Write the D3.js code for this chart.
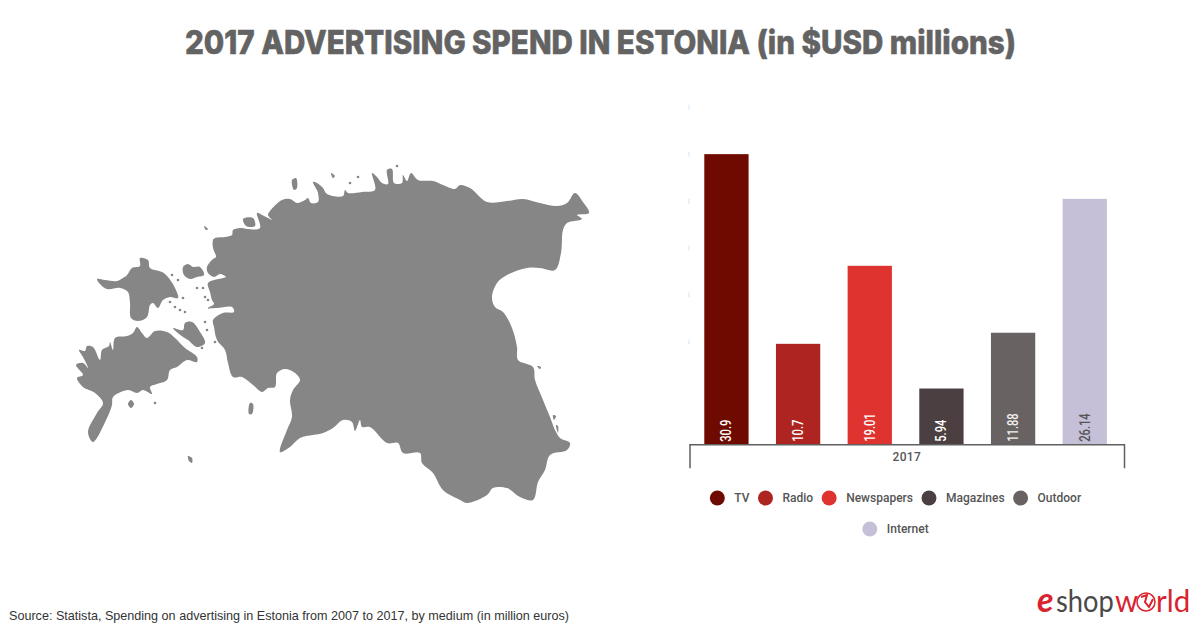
<!DOCTYPE html>
<html>
<head>
<meta charset="utf-8">
<script src="https://cdn.jsdelivr.net/npm/d3@7"></script>
<style>
  html, body { margin: 0; background: #fff; }
  svg { display: block; }
</style>
</head>
<body>
<div id="wrapper"></div>
<script>
// 1. Data
const categories = ["TV", "Radio", "Newspapers", "Magazines", "Outdoor", "Internet"]
const spend = [30.9, 10.7, 19.01, 5.94, 11.88, 26.14]
const years = ["2017"]
const barColors = ["#6f0a00", "#ae2420", "#df3330", "#4b3f41", "#686262", "#c5c0d8"]
const labelColors = ["#fff", "#fff", "#fff", "#fff", "#eee", "#555"]
// the faint stubs left of the plot, what remains of clipped y axis labels
const yStubs = [10.9, 15.9, 20.9, 25.9, 30.9, 35.9]

// map outlines
const mainland = [[213,240],[215,238],[225,237],[232,235],[233,230],[242,228],[247,229],[260,228],[257,213],[262,215],[268,218],[272,220],[268,215],[270,211],[282,200],[290,199],[297,203],[305,200],[308,198],[311,203],[318,202],[318,193],[313,182],[317,183],[323,188],[327,194],[343,196],[345,190],[348,193],[362,192],[375,190],[372,173],[377,177],[382,183],[388,184],[387,170],[392,169],[394,183],[402,183],[403,175],[407,181],[411,173],[418,180],[433,181],[443,185],[455,189],[460,185],[470,188],[487,202],[507,201],[523,199],[540,203],[557,206],[567,203],[575,193],[583,202],[589,213],[577,215],[582,219],[567,223],[563,230],[561,253],[555,270],[540,268],[527,268],[507,275],[497,283],[492,297],[495,307],[503,312],[512,328],[517,347],[518,360],[533,367],[535,380],[543,400],[550,417],[555,430],[560,438],[570,443],[567,450],[550,455],[545,470],[538,482],[533,500],[520,497],[507,488],[493,488],[487,495],[467,503],[460,500],[443,490],[433,473],[422,463],[420,453],[403,453],[398,443],[387,443],[370,427],[362,427],[360,420],[355,431],[352,422],[343,420],[333,428],[323,433],[313,435],[300,438],[290,447],[280,452],[287,430],[292,417],[290,400],[293,390],[300,380],[295,373],[285,369],[277,373],[275,387],[268,388],[262,392],[253,385],[242,377],[233,377],[228,363],[225,350],[217,340],[214,327],[213,320],[223,313],[234,312],[232,307],[217,308],[208,308],[214,304],[212,300],[210,292],[208,283],[223,278],[226,277],[220,274],[214,277],[208,273],[207,267],[213,259],[216,257],[213,248]]
const saaremaa = [[79,350],[85,351],[87,346],[93,347],[100,360],[102,350],[109,346],[110,342],[113,350],[115,338],[127,336],[133,333],[137,327],[142,333],[147,338],[155,331],[167,332],[175,338],[185,348],[197,357],[197,362],[187,360],[177,367],[170,370],[167,380],[157,384],[150,387],[152,394],[143,390],[137,393],[128,390],[113,397],[112,405],[107,418],[93,442],[88,432],[97,413],[103,403],[95,393],[83,387],[77,378],[83,375],[76,365],[83,363],[88,368],[83,357]]
const hiiumaa = [[97,279],[105,280],[117,281],[123,278],[127,275],[132,268],[140,266],[140,258],[148,260],[150,268],[162,272],[168,277],[175,288],[178,298],[170,297],[163,300],[158,308],[153,303],[150,305],[147,317],[138,321],[131,318],[130,303],[128,292],[120,288],[107,289],[100,284]]
const muhu = [[173,328],[183,330],[185,323],[192,322],[200,332],[205,343],[197,347],[188,340],[183,337]]
const vormsi = [[183,267],[188,264],[193,267],[200,267],[204,275],[197,277],[190,279],[184,275]]
const islets = [[[292,180],[296,178],[297,188],[294,190]],[[250,403],[253,404],[252,414],[249,414]],[[188,456],[192,458],[192,463],[189,461]],[[128,404],[131,400],[134,404],[131,408]],[[204,226],[208,229],[206,230]],[[537,366],[541,367],[540,369]],[[553,415],[556,416],[554,420]],[[556,425],[558,426],[558,433]],[[243,219],[253,218],[255,226],[246,226]],[[331,173],[335,176],[333,178]]]
const specks = [[172,275],[178,280],[183,298],[197,288],[203,288],[205,297],[208,300],[185,312],[205,322],[207,330],[215,342],[202,348],[170,302],[175,307],[180,310],[350,183],[358,177],[397,166],[155,403]]

// 2. Dimensions
const dimensions = {
    width: 1200,
    height: 627,
    plotLeft: 690.6,
    plotRight: 1120.6,
    axisLeft: 689.5,
    axisRight: 1124,
    baseline: 444.3,
    pxPerUnit: 9.39,
}

// 3. Draw canvas
const wrapper = d3.select("#wrapper")
    .append("svg")
    .attr("width", dimensions.width)
    .attr("height", dimensions.height)

wrapper.append("text")
    .attr("x", 600.5)
    .attr("y", 54)
    .attr("text-anchor", "middle")
    .attr("fill", "#636363")
    .attr("stroke", "#636363")
    .attr("stroke-width", 0.6)
    .style("font", "800 33px Inter")
    .attr("textLength", 831)
    .attr("lengthAdjust", "spacingAndGlyphs")
    .text("2017 ADVERTISING SPEND IN ESTONIA (in $USD millions)")

// 4. Map
const mapX = d3.scaleLinear().domain([77, 589]).range([77, 589])
const mapY = d3.scaleLinear().domain([168, 503]).range([168, 503])
const outline = d3.line().x(d => mapX(d[0])).y(d => mapY(d[1])).curve(d3.curveCatmullRomClosed.alpha(0.5))

const map = wrapper.append("g").attr("fill", "#868686")

map.selectAll("path")
    .data([mainland, saaremaa, hiiumaa, muhu, vormsi, ...islets])
    .join("path")
    .attr("d", outline)

map.selectAll("circle")
    .data(specks)
    .join("circle")
    .attr("cx", d => mapX(d[0]))
    .attr("cy", d => mapY(d[1]))
    .attr("r", 1.3)

// 5. Scales
const xScale = d3.scaleBand()
    .domain(categories)
    .range([dimensions.plotLeft, dimensions.plotRight])
    .paddingInner(0.382)
    .paddingOuter(0.191)

const yScale = d3.scaleLinear()
    .domain([0, dimensions.baseline / dimensions.pxPerUnit])
    .range([dimensions.baseline, 0])

const yearScale = d3.scaleBand()
    .domain(years)
    .range([dimensions.axisLeft, dimensions.axisRight])

// 6. Draw bars
const rows = categories.map((name, i) => ({name, value: spend[i], color: barColors[i], labelColor: labelColors[i]}))

wrapper.append("g")
    .selectAll("rect")
    .data(rows)
    .join("rect")
    .attr("x", d => xScale(d.name))
    .attr("width", xScale.bandwidth())
    .attr("y", d => yScale(d.value))
    .attr("height", d => yScale(0) - yScale(d.value))
    .attr("fill", d => d.color)

wrapper.append("g")
    .selectAll("text")
    .data(rows)
    .join("text")
    .attr("transform", d => `translate(${xScale(d.name) + xScale.bandwidth() / 2 + 5},${dimensions.baseline - 2.5}) rotate(-90) scale(0.8,1)`)
    .attr("fill", d => d.labelColor)
    .style("font", "500 14px Roboto")
    .text(d => d.value)

// 7. Peripherals
wrapper.append("g")
    .selectAll("rect")
    .data(yStubs)
    .join("rect")
    .attr("x", dimensions.axisLeft - 1)
    .attr("y", d => yScale(d) - 2.5)
    .attr("width", 1)
    .attr("height", 5)
    .attr("fill", "#cfe6f7")

const xAxis = wrapper.append("g")
    .attr("transform", `translate(0,${dimensions.baseline})`)
    .call(d3.axisBottom(yearScale).tickSizeInner(0).tickSizeOuter(24).tickPadding(8))

xAxis.select(".domain").attr("stroke", "#606060").attr("stroke-width", 1.5)
xAxis.selectAll("text")
    .attr("fill", "#555")
    .style("font", "500 12px Roboto")
    .style("letter-spacing", "0.3px")

// legend wraps like a centred flex row
const legendRows = [[0, 1, 2, 3, 4], [5]]
legendRows.forEach((row, r) => {
    const g = wrapper.append("g")
    let cursor = 0
    row.forEach(i => {
        const item = g.append("g").attr("transform", `translate(${cursor},0)`)
        item.append("circle").attr("cx", 7.5).attr("r", 7.5).attr("fill", barColors[i])
        const label = item.append("text")
            .attr("x", 24.5)
            .attr("y", 4.3)
            .attr("fill", "#555")
            .style("font", "500 12px Roboto")
            .text(categories[i])
        cursor += 24.5 + label.node().getComputedTextLength() + 8.5
    })
    g.attr("transform", `translate(${895.5 - (cursor - 8.5) / 2},${498 + r * 31})`)
})

wrapper.append("text")
    .attr("x", 9)
    .attr("y", 620)
    .attr("fill", "#333")
    .style("font", "12.6px 'Liberation Sans'")
    .text("Source: Statista, Spending on advertising in Estonia from 2007 to 2017, by medium (in million euros)")

// logo
const logo = wrapper.append("g").style("font", "400 31px Lato")
logo.append("text").attr("x", 1037).attr("y", 612).attr("fill", "#d9232e").style("font-style", "italic").style("font-weight", 700).style("font-size", "34px").text("e")
logo.append("text").attr("transform", "translate(1056,612) scale(0.88,1)").attr("fill", "#4a4a4a").text("shop")
logo.append("text").attr("transform", "translate(1115,612) scale(0.95,1)").attr("fill", "#d9232e").text("w")
logo.append("text").attr("transform", "translate(1156,612) scale(0.95,1)").attr("fill", "#d9232e").text("rld")
logo.append("circle").attr("cx", 1146).attr("cy", 602).attr("r", 9).attr("fill", "#fff").attr("stroke", "#d9232e").attr("stroke-width", 1.5)
logo.append("path")
    .attr("d", d3.line()([[1141,597],[1147,595],[1145,602],[1149,607],[1153,599]]))
    .attr("fill", "none")
    .attr("stroke", "#d9232e")
    .attr("stroke-width", 2)
</script>
</body>
</html>
